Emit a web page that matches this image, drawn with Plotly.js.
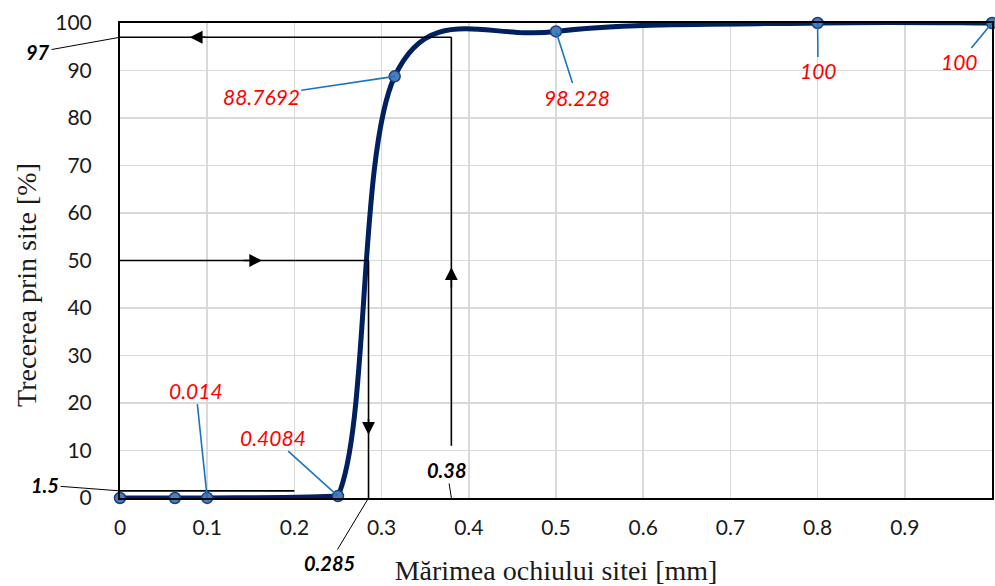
<!DOCTYPE html>
<html>
<head>
<meta charset="utf-8">
<script src="https://cdn.plot.ly/plotly-3.0.1.min.js"></script>
<style>
  html, body { margin: 0; padding: 0; background: #fff; }
  #chart { width: 995px; height: 586px; }
</style>
</head>
<body>
<div id="chart"></div>
<script>
// Sieve analysis: passing fraction vs. mesh size
const meshSize = [0, 0.063, 0.1, 0.25, 0.315, 0.5, 0.8, 1];
const passing  = [0, 0, 0.014, 0.4084, 88.7692, 98.228, 100, 100];

// Labelled points (index into the arrays above) and label anchor positions
const labelIdx = [2, 3, 4, 5, 6, 7];
const labelX   = [0.087, 0.175, 0.162, 0.524, 0.8005, 0.963];
const labelY   = [22.7, 12.8, 84.6, 84.4, 89.9, 91.8];

// Characteristic values
const d97 = 0.38, p97 = 97;      // size at 97 % passing
const d50 = 0.285, p50 = 50;     // size at 50 % passing
const p1_5 = 1.5, d1_5End = 0.2; // 1.5 % passing level

const xTicks = [0, 0.1, 0.2, 0.3, 0.4, 0.5, 0.6, 0.7, 0.8, 0.9, 1];
const yTicks = [0, 10, 20, 30, 40, 50, 60, 70, 80, 90, 100];

const xRange = [0, 1], yRange = [0, 100];
const W = 995, H = 586;
const margin = { l: 120, r: 3, t: 23, b: 88 };

const tickFont  = { family: 'Lato, "Open Sans", sans-serif', size: 21, color: '#1a1a1a' };
const redFont   = { family: 'Lato, "Open Sans", sans-serif', size: 21, color: '#ff0000', style: 'italic' };
const keyFont   = { family: 'Lato, "Open Sans", sans-serif', size: 20, color: '#000', style: 'italic', weight: 'bold' };
const titleFont = { family: '"Liberation Serif", "DejaVu Serif", serif', size: 28, color: '#1a1a1a' };
const leaderBlue = '#1b75bc';
const curveColor = '#002060';

// Smoothed curve through the measured points: cubic Bezier segments with
// Catmull-Rom style tangents (1/6 of the neighbour chord), each arm limited to
// half its segment, worked out in screen proportions. Control points are not
// allowed below 0 % passing.
function smoothPath(xs, ys) {
  const pw = W - margin.l - margin.r, ph = H - margin.t - margin.b;
  const sx = pw / (xRange[1] - xRange[0]), sy = ph / (yRange[1] - yRange[0]);
  const P = xs.map((x, i) => [(x - xRange[0]) * sx, (ys[i] - yRange[0]) * sy]);
  const toData = p => [p[0] / sx + xRange[0], Math.max(yRange[0], p[1] / sy + yRange[0])];
  const dist = (a, b) => Math.hypot(b[0] - a[0], b[1] - a[1]);
  const n = P.length;
  let d = 'M ' + xs[0] + ',' + ys[0];
  for (let i = 0; i < n - 1; i++) {
    const p0 = P[Math.max(i - 1, 0)], p1 = P[i], p2 = P[i + 1], p3 = P[Math.min(i + 2, n - 1)];
    const d12 = dist(p1, p2), d02 = dist(p0, p2), d13 = dist(p1, p3);
    const f1 = d02 > 0 && d02 / 6 >= d12 / 2 ? (d12 / 2) / d02 : 1 / 6;
    const f2 = d13 > 0 && d13 / 6 >= d12 / 2 ? (d12 / 2) / d13 : 1 / 6;
    const c1 = toData([p1[0] + f1 * (p2[0] - p0[0]), p1[1] + f1 * (p2[1] - p0[1])]);
    const c2 = toData([p2[0] - f2 * (p3[0] - p1[0]), p2[1] - f2 * (p3[1] - p1[1])]);
    d += ' C ' + c1.join(',') + ' ' + c2.join(',') + ' ' + xs[i + 1] + ',' + ys[i + 1];
  }
  return d;
}

const points = {
  x: meshSize, y: passing,
  type: 'scatter', mode: 'markers',
  marker: { size: 11, color: '#4a7ebb', line: { color: '#1f3d7a', width: 1.5 } },
  cliponaxis: false,
  hoverinfo: 'skip'
};

// Guide lines for the characteristic sizes
const guide = { type: 'line', xref: 'x', yref: 'y', line: { color: '#000', width: 1.6 } };
const shapes = [
  { type: 'path', xref: 'x', yref: 'y', layer: 'between', path: smoothPath(meshSize, passing),
    line: { color: curveColor, width: 5 } },
  Object.assign({}, guide, { x0: 0, x1: d97, y0: p97, y1: p97 }),
  Object.assign({}, guide, { x0: d97, x1: d97, y0: 11, y1: p97 }),
  Object.assign({}, guide, { x0: 0, x1: d50, y0: p50, y1: p50 }),
  Object.assign({}, guide, { x0: d50, x1: d50, y0: 0, y1: p50 }),
  Object.assign({}, guide, { x0: 0, x1: d1_5End, y0: p1_5, y1: p1_5 })
];

const annotations = [];

// Value labels with blue leaders
labelIdx.forEach((i, k) => {
  annotations.push({
    x: meshSize[i], y: passing[i], xref: 'x', yref: 'y',
    ax: labelX[k], ay: labelY[k], axref: 'x', ayref: 'y',
    text: String(passing[i]), font: redFont,
    showarrow: true, arrowhead: 0, arrowwidth: 1.6, arrowcolor: leaderBlue, standoff: 0
  });
});

// Characteristic value callouts
const keys = [
  { x: 0, y: p97, ax: -0.094, ay: 93.9, text: String(p97) },
  { x: 0, y: p1_5, ax: -0.086, ay: 2.7, text: String(p1_5) },
  { x: d50, y: 0, ax: 0.24, ay: -13.7, text: String(d50) },
  { x: d97, y: 0, ax: 0.375, ay: 5.9, text: String(d97) }
];
keys.forEach(k => {
  annotations.push({
    x: k.x, y: k.y, xref: 'x', yref: 'y',
    ax: k.ax, ay: k.ay, axref: 'x', ayref: 'y',
    text: k.text, font: keyFont,
    showarrow: true, arrowhead: 0, arrowwidth: 1, arrowcolor: '#000', standoff: 0
  });
});

// Direction arrowheads on the guide lines
const heads = [
  { x: 0.08, y: p97, ax: 0.1, ay: p97 },
  { x: 0.163, y: p50, ax: 0.14, ay: p50 },
  { x: d50, y: 13.3, ax: d50, ay: 17 },
  { x: d97, y: 48.6, ax: d97, ay: 44 }
];
heads.forEach(h => {
  annotations.push({
    x: h.x, y: h.y, xref: 'x', yref: 'y',
    ax: h.ax, ay: h.ay, axref: 'x', ayref: 'y',
    text: '', showarrow: true, arrowhead: 2, arrowsize: 1.6, arrowwidth: 1.6, arrowcolor: '#000', standoff: 0
  });
});

// Vertical axis title, set a little below the middle of the axis
annotations.push({
  xref: 'paper', yref: 'paper', x: -0.107, y: 0.448,
  xanchor: 'center', yanchor: 'middle', textangle: -90,
  text: 'Trecerea prin site [%]', font: titleFont, showarrow: false
});

const layout = {
  width: W, height: H,
  margin: margin,
  paper_bgcolor: '#fff', plot_bgcolor: '#fff',
  showlegend: false,
  xaxis: {
    range: xRange, tickvals: xTicks, ticktext: xTicks.map(String),
    showgrid: true, gridcolor: '#d9d9d9', gridwidth: 1.5,
    showline: true, linecolor: '#000', linewidth: 2, mirror: true,
    zeroline: false, ticks: '', tickfont: tickFont, ticklabelstandoff: 10,
    title: { text: 'Mărimea ochiului sitei [mm]', font: titleFont, standoff: 22 }
  },
  yaxis: {
    range: yRange, tickvals: yTicks, ticktext: yTicks.map(String),
    showgrid: true, gridcolor: '#d9d9d9', gridwidth: 1.5,
    showline: true, linecolor: '#000', linewidth: 2, mirror: true,
    zeroline: false, ticks: '', tickfont: tickFont, ticklabelstandoff: 22
  },
  shapes: shapes,
  annotations: annotations
};

Plotly.newPlot('chart', [points], layout, { staticPlot: true, displayModeBar: false });
</script>
</body>
</html>
